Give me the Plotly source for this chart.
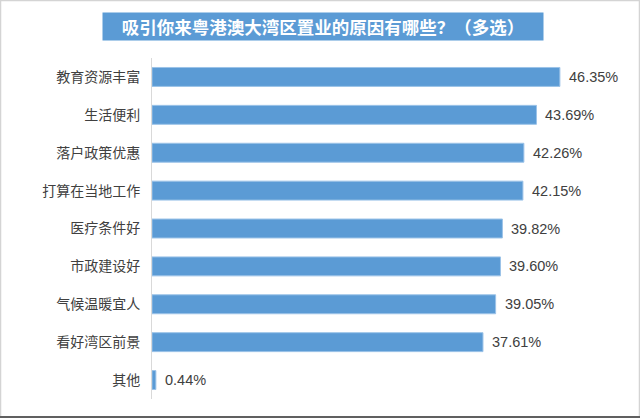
import plotly.graph_objects as go

categories = ["教育资源丰富", "生活便利", "落户政策优惠", "打算在当地工作", "医疗条件好",
              "市政建设好", "气候温暖宜人", "看好湾区前景", "其他"]
values = [46.35, 43.69, 42.26, 42.15, 39.82, 39.60, 39.05, 37.61, 0.44]
title_text = "吸引你来粤港澳大湾区置业的原因有哪些？（多选）"

W, H = 640, 418
L, R, T, B = 152, 48, 58, 19
pw, ph = W - L - R, H - T - B

fig = go.Figure()
fig.add_trace(go.Bar(
    x=values, y=categories, orientation="h",
    marker=dict(color="#5b9bd5", line=dict(color="#9cc3e8", width=1)),
    width=0.5, hoverinfo="skip",
))
for c, v in zip(categories, values):
    fig.add_annotation(x=v, y=c, xref="x", yref="y", text=f"{v:.2f}%",
                       showarrow=False, xanchor="left", xshift=7,
                       font=dict(size=14.5, color="#404040", family="Liberation Sans, Arial"))

def px_x(p):
    return (p - L) / pw
def px_y(p):
    return (H - B - p) / ph

fig.add_annotation(x=px_x(323), y=px_y(26.5), xref="paper", yref="paper",
                   text="<b>" + title_text + "</b>", showarrow=False, xanchor="center", yanchor="middle",
                   bgcolor="#5b9bd5", width=440, height=27, borderpad=0, align="center",
                   font=dict(size=17.5, color="white", family="Noto Sans CJK SC"))

# frame
fig.add_shape(type="rect", xref="paper", yref="paper",
              x0=px_x(0.5), x1=px_x(639.5), y0=px_y(417), y1=px_y(0.5),
              line=dict(color="#d4d4d4", width=1.5), layer="below")
fig.add_shape(type="line", xref="paper", yref="paper",
              x0=px_x(0), x1=px_x(640), y0=px_y(417), y1=px_y(417),
              line=dict(color="#606060", width=2))

fig.update_layout(
    width=W, height=H, margin=dict(l=L, r=R, t=T, b=B),
    paper_bgcolor="white", plot_bgcolor="white", showlegend=False,
    font=dict(family="Noto Sans CJK SC", color="#404040"),
    xaxis=dict(range=[0, 50], visible=False, fixedrange=True),
    yaxis=dict(autorange="reversed", showline=True, linecolor="#d9d9d9", linewidth=1,
               ticks="outside", ticklen=8, tickcolor="rgba(0,0,0,0)",
               tickfont=dict(size=14, color="#404040"), showgrid=False),
)
fig.write_html("out.html")
